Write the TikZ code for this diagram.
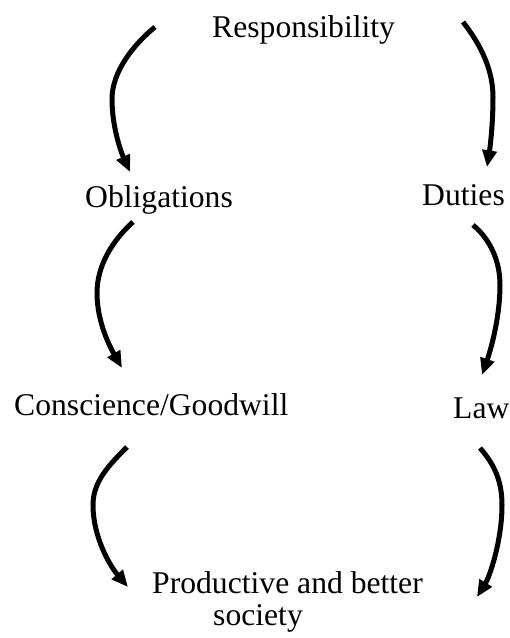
\documentclass[tikz,border=0pt]{standalone}
\usepackage{fontspec}
\setmainfont{Liberation Serif}
\usetikzlibrary{arrows.meta}

\begin{document}
\begin{tikzpicture}[
    x=0.03cm, y=-0.03cm,
    every node/.style={font=\fontsize{27}{27.5}\selectfont},
    lbl/.style={inner sep=0pt, anchor=base west},
    arr/.style={-{Triangle[length=0.5cm, width=0.42cm]}, line width=0.15cm}
]
    \useasboundingbox (0,0) rectangle (510,638);
    % labels
    \node[lbl] (resp) at (212,37)  {Responsibility};
    \node[lbl] (obl)  at (85,207)  {Obligations};
    \node[lbl] (dut)  at (422,205) {Duties};
    \node[lbl] (cons) at (14,415)  {Conscience/Goodwill};
    \node[lbl] (law)  at (453,418) {Law};
    \node[inner sep=0pt, anchor=north west, align=left] (prod) at (152,571)
        {Productive and better\\\hspace*{1.83cm}society};
    % arrow ends and turning points
    \coordinate (a1s) at (155,27);  \coordinate (a1m) at (112,99);  \coordinate (a1e) at (130,172);
    \coordinate (a2s) at (463,22);  \coordinate (a2m) at (493,97);  \coordinate (a2e) at (487,167);
    \coordinate (a3s) at (133,222); \coordinate (a3m) at (97,293);  \coordinate (a3e) at (122,368);
    \coordinate (a4s) at (473,225); \coordinate (a4m) at (500,285); \coordinate (a4e) at (482,375);
    \coordinate (a5s) at (127,447); \coordinate (a5m) at (93,505);  \coordinate (a5e) at (128,587);
    \coordinate (a6s) at (480,448); \coordinate (a6m) at (502,505); \coordinate (a6e) at (477,597);
    % arrows
    \draw[arr] (a1s) .. controls (133,45) and (112,72) .. (a1m)
                     .. controls (112,127) and (121,152) .. (a1e);
    \draw[arr] (a2s) .. controls (481,45) and (493,70) .. (a2m)
                     .. controls (493,125) and (490,148) .. (a2e);
    \draw[arr] (a3s) .. controls (113,240) and (97,265) .. (a3m)
                     .. controls (97,322) and (110,347) .. (a3e);
    \draw[arr] (a4s) .. controls (491,240) and (500,262) .. (a4m)
                     .. controls (500,315) and (492,346) .. (a4e);
    \draw[arr] (a5s) .. controls (108,466) and (93,482) .. (a5m)
                     .. controls (93,537) and (110,566) .. (a5e);
    \draw[arr] (a6s) .. controls (495,465) and (502,482) .. (a6m)
                     .. controls (502,540) and (490,576) .. (a6e);
\end{tikzpicture}
\end{document}
